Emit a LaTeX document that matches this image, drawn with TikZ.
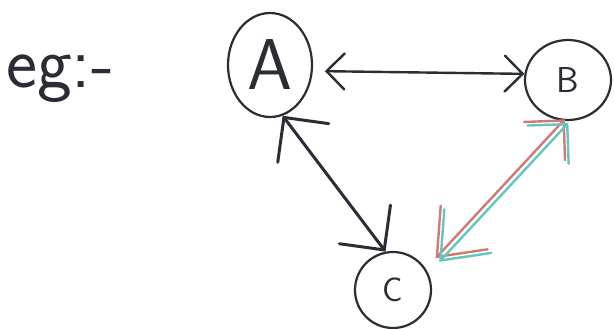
\documentclass[tikz,border=0pt]{standalone}
\usetikzlibrary{arrows.meta,shapes.geometric}
\definecolor{ink}{RGB}{42,46,52}
\definecolor{penred}{RGB}{212,120,116}
\definecolor{pencyan}{RGB}{96,200,190}
\begin{document}
\begin{tikzpicture}[x=1pt,y=-1pt,
  vertex/.style={ellipse, draw=ink, line width=2.2pt, inner sep=0pt, text=ink},
  hand/.style={font=\sffamily\fontsize{#1}{#1}\selectfont},
  link/.style={draw=ink, line width=2.4pt, line cap=round},
  bothbarbs/.style={arrows={Straight Barb[length=#1, width'=0pt 2, line cap=round]-Straight Barb[length=#1, width'=0pt 2, line cap=round]}},
  bcbarbs/.style={arrows={Straight Barb[length=28pt, width'=0pt 2, line cap=round]-Straight Barb[length=40pt, width'=0pt 1.6, line cap=round]}}
]
\useasboundingbox (0,0) rectangle (614,329);
\fill[white] (0,0) rectangle (614,329);

% heading
\node[anchor=base west, text=ink, hand=74, inner sep=0pt] (eg) at (6,88) {eg:-};

% vertices
\node[vertex, minimum width=84pt, minimum height=104pt, hand=72] (A) at (270,65) {A};
\node[vertex, minimum width=86pt, minimum height=80pt, hand=36] (B) at (568,80) {B};
\node[vertex, minimum width=76pt, minimum height=76pt, hand=34] (C) at (393,290) {C};

% A <-> B
\draw[link, bothbarbs=18pt, shorten <=12pt] (A.-8) -- (B.172);

% A <-> C
\draw[link, line width=3pt, bothbarbs=32pt] (A.-76) -- (C.101);

% B <-> C, drawn with two pens side by side
\draw[link, draw=penred, bcbarbs, shorten >=15pt,
      transform canvas={shift={(-1.8,-1.8)}}] (B.-92) -- (C.29);
\draw[link, draw=pencyan, bcbarbs, shorten >=15pt,
      transform canvas={shift={(1.8,1.8)}}] (B.-92) -- (C.29);
\end{tikzpicture}
\end{document}
